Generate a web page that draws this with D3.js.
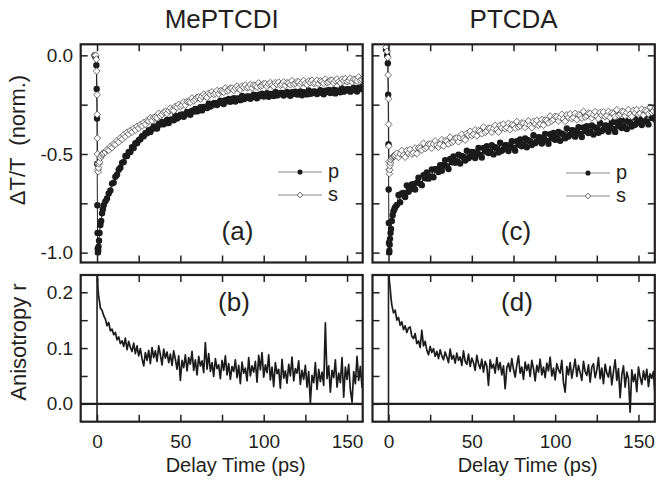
<!DOCTYPE html>
<html>
<head>
<meta charset="utf-8">
<script src="https://cdnjs.cloudflare.com/ajax/libs/d3/7.8.5/d3.min.js"></script>
<style>
  body { margin: 0; background: #fff; }
  text { font-family: "Liberation Sans", Arial, sans-serif; fill: #231f20; }
</style>
</head>
<body>
<div id="chart"></div>
<script>
// ---- data ----

// delay times (ps) for the transmission traces
var delayTop = [-1.5, -0.8, -0.4, -0.2, 0, 0.1, 0.2, 0.3, 0.4, 0.5, 0.7, 0.9, 1.2, 1.5, 2, 2.5, 3, 3.5, 4,
  5, 6, 7, 8, 9, 10, 11, 12, 13, 14, 15, 16, 17, 18, 19, 20, 21, 22, 23, 24, 25, 26, 27, 28, 29, 30,
  31, 32, 33, 34, 35, 36, 37, 38, 39, 40, 41, 42, 43, 44, 45, 46, 47, 48, 49, 50,
  51, 52, 53, 54, 55, 56, 57, 58, 59, 60, 61, 62, 63, 64, 65, 66, 67, 68, 69, 70,
  71, 72, 73, 74, 75, 76, 77, 78, 79, 80, 81, 82, 83, 84, 85, 86, 87, 88, 89, 90,
  91, 92, 93, 94, 95, 96, 97, 98, 99, 100, 101, 102, 103, 104, 105, 106, 107, 108, 109, 110,
  111, 112, 113, 114, 115, 116, 117, 118, 119, 120, 121, 122, 123, 124, 125, 126, 127, 128, 129, 130,
  131, 132, 133, 134, 135, 136, 137, 138, 139, 140, 141, 142, 143, 144, 145, 146, 147, 148, 149, 150,
  151, 152, 153, 154, 155, 156, 157, 158, 159, 160];

// (a) MePTCDI, p and s polarisation
var pMePTCDI = [0.0, -0.01, -0.05, -0.17, -0.32, -0.55, -0.76, -0.9, -0.98, -1.0, -0.99, -0.97, -0.94, -0.9, -0.86, -0.84, -0.8, -0.78, -0.76,
  -0.74, -0.725, -0.70, -0.685, -0.65, -0.645, -0.615, -0.605, -0.58, -0.57, -0.545, -0.54, -0.51, -0.51, -0.49, -0.49, -0.465, -0.47, -0.445, -0.445, -0.43, -0.425, -0.41, -0.41, -0.395, -0.395,
  -0.380, -0.388, -0.373, -0.360, -0.369, -0.371, -0.348, -0.351, -0.338, -0.349,
  -0.343, -0.328, -0.343, -0.326, -0.325, -0.329, -0.306, -0.320, -0.313, -0.302,
  -0.300, -0.311, -0.298, -0.287, -0.297, -0.301, -0.280, -0.285, -0.272, -0.284,
  -0.278, -0.263, -0.279, -0.262, -0.262, -0.267, -0.245, -0.259, -0.253, -0.242,
  -0.241, -0.252, -0.240, -0.230, -0.242, -0.247, -0.227, -0.233, -0.221, -0.235,
  -0.230, -0.217, -0.234, -0.219, -0.220, -0.227, -0.206, -0.222, -0.217, -0.208,
  -0.208, -0.220, -0.209, -0.200, -0.213, -0.218, -0.199, -0.206, -0.195, -0.209,
  -0.205, -0.192, -0.210, -0.196, -0.198, -0.206, -0.186, -0.203, -0.199, -0.191,
  -0.191, -0.204, -0.193, -0.185, -0.199, -0.205, -0.187, -0.195, -0.184, -0.199,
  -0.196, -0.183, -0.202, -0.187, -0.190, -0.198, -0.178, -0.195, -0.192, -0.183,
  -0.184, -0.196, -0.186, -0.177, -0.191, -0.197, -0.179, -0.186, -0.176, -0.191,
  -0.187, -0.174, -0.193, -0.178, -0.180, -0.187, -0.168, -0.184, -0.180, -0.172,
  -0.172, -0.184, -0.173, -0.164, -0.177, -0.183, -0.164, -0.171, -0.160, -0.173];

var sMePTCDI = [0.0, 0.0, -0.02, -0.08, -0.2, -0.3, -0.42, -0.5, -0.55, -0.58, -0.59, -0.57, -0.55, -0.54, -0.52, -0.51, -0.5, -0.5, -0.495,
  -0.49, -0.478, -0.481, -0.462, -0.468, -0.449, -0.452, -0.433, -0.44, -0.418, -0.425, -0.403, -0.412, -0.39, -0.399, -0.381, -0.389, -0.37, -0.378, -0.36, -0.369, -0.351, -0.358, -0.34, -0.35, -0.332,
  -0.333, -0.317, -0.332, -0.314, -0.313, -0.317, -0.294, -0.307, -0.300, -0.288,
  -0.285, -0.294, -0.280, -0.268, -0.278, -0.281, -0.259, -0.263, -0.249, -0.260,
  -0.253, -0.237, -0.253, -0.235, -0.235, -0.239, -0.217, -0.231, -0.224, -0.213,
  -0.211, -0.221, -0.208, -0.197, -0.208, -0.213, -0.192, -0.198, -0.185, -0.198,
  -0.193, -0.179, -0.196, -0.180, -0.181, -0.187, -0.166, -0.181, -0.176, -0.166,
  -0.166, -0.177, -0.166, -0.156, -0.169, -0.174, -0.155, -0.162, -0.151, -0.165,
  -0.161, -0.148, -0.166, -0.151, -0.153, -0.160, -0.140, -0.156, -0.152, -0.144,
  -0.144, -0.157, -0.146, -0.138, -0.151, -0.158, -0.139, -0.147, -0.136, -0.151,
  -0.147, -0.135, -0.153, -0.139, -0.141, -0.149, -0.129, -0.146, -0.142, -0.134,
  -0.135, -0.147, -0.137, -0.128, -0.142, -0.149, -0.130, -0.138, -0.127, -0.142,
  -0.139, -0.126, -0.145, -0.130, -0.133, -0.141, -0.121, -0.138, -0.134, -0.126,
  -0.126, -0.139, -0.128, -0.120, -0.133, -0.140, -0.121, -0.129, -0.118, -0.133,
  -0.129, -0.117, -0.135, -0.121, -0.123, -0.130, -0.110, -0.127, -0.123, -0.114];

// (c) PTCDA, p and s polarisation
var pPTCDA = [0.03, 0.0, -0.04, -0.2, -0.45, -0.68, -0.85, -0.95, -1.0, -0.99, -0.96, -0.93, -0.9, -0.88, -0.84, -0.81, -0.79, -0.78, -0.77,
  -0.758, -0.708, -0.745, -0.700, -0.697, -0.718, -0.660, -0.692, -0.680, -0.655,
  -0.653, -0.680, -0.645, -0.620, -0.650, -0.658, -0.607, -0.623, -0.593, -0.625,
  -0.615, -0.578, -0.618, -0.577, -0.577, -0.591,
  -0.557, -0.585, -0.556, -0.531, -0.562, -0.576, -0.525, -0.542, -0.513, -0.545,
  -0.536, -0.503, -0.548, -0.510, -0.515, -0.533, -0.483, -0.522, -0.513, -0.490,
  -0.491, -0.520, -0.493, -0.470, -0.503, -0.518, -0.470, -0.488, -0.461, -0.495,
  -0.487, -0.456, -0.502, -0.466, -0.472, -0.492, -0.443, -0.484, -0.476, -0.455,
  -0.456, -0.485, -0.458, -0.435, -0.468, -0.483, -0.435, -0.453, -0.426, -0.461,
  -0.452, -0.421, -0.466, -0.430, -0.435, -0.455, -0.405, -0.445, -0.437, -0.415,
  -0.416, -0.447, -0.420, -0.398, -0.432, -0.448, -0.400, -0.420, -0.393, -0.428,
  -0.419, -0.388, -0.433, -0.396, -0.401, -0.420, -0.370, -0.411, -0.402, -0.380,
  -0.381, -0.412, -0.385, -0.364, -0.397, -0.414, -0.366, -0.385, -0.359, -0.394,
  -0.386, -0.355, -0.401, -0.365, -0.372, -0.392, -0.343, -0.384, -0.376, -0.355,
  -0.356, -0.387, -0.360, -0.338, -0.372, -0.388, -0.340, -0.360, -0.333, -0.368,
  -0.359, -0.328, -0.373, -0.337, -0.342, -0.361, -0.312, -0.352, -0.343, -0.322,
  -0.323, -0.353, -0.325, -0.303, -0.335, -0.350, -0.301, -0.318, -0.290, -0.325];

var sPTCDA = [0.04, 0.02, -0.01, -0.1, -0.22, -0.35, -0.46, -0.54, -0.58, -0.6, -0.58, -0.56, -0.545, -0.53, -0.52, -0.515, -0.51, -0.51, -0.505,
  -0.497, -0.517, -0.499, -0.483, -0.506, -0.516, -0.483, -0.496, -0.477, -0.500,
  -0.494, -0.470, -0.498, -0.469, -0.470, -0.480, -0.446, -0.472, -0.465, -0.450,
  -0.450, -0.470, -0.450, -0.434, -0.455, -0.465,
  -0.450, -0.428, -0.459, -0.433, -0.436, -0.449, -0.415, -0.441, -0.435, -0.420,
  -0.419, -0.438, -0.417, -0.400, -0.421, -0.429, -0.395, -0.405, -0.385, -0.407,
  -0.400, -0.378, -0.408, -0.382, -0.385, -0.397, -0.364, -0.390, -0.383, -0.369,
  -0.369, -0.389, -0.371, -0.355, -0.377, -0.388, -0.355, -0.368, -0.349, -0.372,
  -0.366, -0.345, -0.376, -0.351, -0.355, -0.369, -0.336, -0.363, -0.357, -0.343,
  -0.344, -0.365, -0.347, -0.333, -0.356, -0.367, -0.335, -0.348, -0.330, -0.355,
  -0.347, -0.325, -0.354, -0.328, -0.330, -0.342, -0.308, -0.333, -0.325, -0.310,
  -0.311, -0.332, -0.314, -0.299, -0.322, -0.334, -0.302, -0.315, -0.297, -0.321,
  -0.315, -0.294, -0.326, -0.301, -0.305, -0.318, -0.285, -0.313, -0.307, -0.293,
  -0.295, -0.317, -0.300, -0.286, -0.309, -0.321, -0.290, -0.304, -0.287, -0.311,
  -0.306, -0.285, -0.316, -0.292, -0.296, -0.309, -0.276, -0.304, -0.298, -0.284,
  -0.286, -0.307, -0.290, -0.275, -0.299, -0.310, -0.279, -0.292, -0.275, -0.300,
  -0.294, -0.273, -0.304, -0.279, -0.283, -0.296, -0.263, -0.289, -0.282, -0.267];

// delay times (ps) for the anisotropy traces
var delayAniso = [0.3, 0.6, 1, 1.5, 2,
  3, 4, 5, 6, 7, 8, 9, 10, 11, 12, 13, 14, 15, 16, 17, 18, 19, 20, 21, 22, 23, 24, 25, 26, 27, 28, 29, 30,
  31, 32, 33, 34, 35, 36, 37, 38, 39, 40, 41, 42, 43, 44, 45, 46, 47, 48, 49, 50, 51, 52, 53, 54, 55, 56,
  57, 58, 59, 60, 61, 62, 63, 64, 65, 66, 67, 68, 69, 70, 71, 72, 73, 74, 75, 76, 77, 78, 79, 80, 81, 82,
  83, 84, 85, 86, 87, 88, 89, 90, 91, 92, 93, 94, 95, 96, 97, 98, 99, 100, 101, 102, 103, 104, 105, 106,
  107, 108, 109, 110, 111, 112, 113, 114, 115, 116, 117, 118, 119, 120, 121, 122, 123, 124, 125, 126, 127,
  128, 129, 130, 131, 132, 133, 134, 135, 136, 137, 138, 139, 140, 141, 142, 143, 144, 145, 146, 147, 148,
  149, 150, 151, 152, 153, 154, 155, 156, 157, 158, 159, 160];

// (b) MePTCDI anisotropy
var rMePTCDI = [0.226, 0.205, 0.192, 0.183, 0.172,
  0.168, 0.158, 0.152, 0.140, 0.146, 0.131, 0.134, 0.124, 0.128, 0.115,
  0.120, 0.108, 0.113, 0.103, 0.118, 0.097, 0.112, 0.101, 0.094, 0.109,
  0.090, 0.104, 0.086, 0.099, 0.081, 0.068, 0.092, 0.078, 0.096, 0.072,
  0.101, 0.083, 0.095, 0.076, 0.104, 0.088, 0.070, 0.098, 0.082, 0.093,
  0.074, 0.089, 0.069, 0.095, 0.080, 0.062, 0.086, 0.042, 0.078, 0.065,
  0.088, 0.059, 0.083, 0.071, 0.094, 0.060, 0.079, 0.052, 0.085, 0.068,
  0.077, 0.056, 0.110, 0.062, 0.090, 0.058, 0.074, 0.049, 0.081, 0.063,
  0.070, 0.045, 0.078, 0.060, 0.086, 0.052, 0.072, 0.044, 0.067, 0.058,
  0.079, 0.047, 0.069, 0.036, 0.075, 0.055, 0.064, 0.041, 0.083, 0.050,
  0.068, 0.057, 0.076, 0.039, 0.087, 0.061, 0.092, 0.048, 0.070, 0.056,
  0.088, 0.043, 0.066, 0.031, 0.074, 0.054, 0.062, 0.028, 0.080, 0.046,
  0.059, 0.037, 0.071, 0.050, 0.084, 0.041, 0.063, 0.055, 0.077, 0.035,
  0.060, 0.044, 0.069, 0.030, 0.058, 0.002, 0.051, 0.038, 0.074, 0.026,
  0.062, 0.040, 0.057, 0.033, 0.145, 0.045, 0.068, 0.021, 0.060, 0.047,
  0.079, 0.030, 0.055, 0.038, 0.083, 0.012, 0.066, 0.044, 0.071, 0.025,
  0.003, 0.058, 0.036, 0.085, 0.042, 0.067, 0.030, 0.062];

// (d) PTCDA anisotropy
var rPTCDA = [0.230, 0.218, 0.207, 0.190, 0.177,
  0.163, 0.168, 0.150, 0.155, 0.141, 0.147, 0.133, 0.140, 0.128, 0.136,
  0.138, 0.121, 0.117, 0.126, 0.108, 0.113, 0.101, 0.132, 0.104, 0.112,
  0.096, 0.088, 0.103, 0.092, 0.099, 0.085, 0.094, 0.081, 0.097, 0.086,
  0.079, 0.093, 0.084, 0.074, 0.098, 0.080, 0.087, 0.073, 0.091, 0.078,
  0.084, 0.069, 0.095, 0.076, 0.071, 0.089, 0.067, 0.082, 0.074, 0.060,
  0.087, 0.072, 0.063, 0.080, 0.057, 0.076, 0.068, 0.033, 0.079, 0.064,
  0.071, 0.055, 0.083, 0.061, 0.074, 0.052, 0.068, 0.027, 0.065, 0.073,
  0.058, 0.081, 0.062, 0.048, 0.070, 0.086, 0.055, 0.066, 0.044, 0.075,
  0.060, 0.071, 0.049, 0.078, 0.063, 0.041, 0.069, 0.057, 0.080, 0.052,
  0.066, 0.047, 0.073, 0.059, 0.084, 0.050, 0.064, 0.043, 0.072, 0.061,
  0.055, 0.078, 0.038, 0.021, 0.067, 0.052, 0.074, 0.046, 0.063, 0.080,
  0.049, 0.069, 0.056, 0.042, 0.076, 0.058, 0.051, 0.070, 0.039, 0.066,
  0.072, 0.047, 0.060, 0.083, 0.045, 0.064, 0.036, 0.071, 0.055, 0.048,
  0.067, 0.034, 0.058, 0.079, 0.042, 0.063, 0.011, 0.052, 0.068, 0.030,
  0.057, 0.045, -0.015, 0.061, 0.040, 0.053, 0.022, 0.066, 0.048, 0.035,
  0.059, 0.043, 0.062, 0.031, 0.054, 0.046, 0.058, 0.012];

// ticks and labels
var xTicks = [0, 25, 50, 75, 100, 125, 150];
var xLabels = [0, 50, 100, 150];
var topTicks = [0, -0.25, -0.5, -0.75, -1];
var topLabels = [0, -0.5, -1];
var botTicks = [0, 0.05, 0.1, 0.15, 0.2];
var botLabels = [0, 0.1, 0.2];
var titles = ["MePTCDI", "PTCDA"];
var panelNames = ["(a)", "(b)", "(c)", "(d)"];
var legendNames = ["p", "s"];

var ink = "#231f20";

// ---- svg ----
var svg = d3.select("#chart")
  .append("svg")
  .attr("width", 656)
  .attr("height", 480)
  .style("background", "#fff");

// scales, one per column / row
var xLeft = d3.scaleLinear().domain([-9.8, 159.4]).range([80.7, 362.7]);
var xRight = d3.scaleLinear().domain([-9.6, 159.8]).range([372.5, 654.8]);
var yTop = d3.scaleLinear().domain([-1.05, 0.056]).range([262.5, 44.3]);
var yBot = d3.scaleLinear().domain([-0.032, 0.231]).range([421.7, 275]);

var fmt1 = function(d) { return d.toFixed(1); };

// draws ticks on all four sides, inward
function drawAxes(g, x, y, yTicks, yLabels, showY, showX) {
  var x0 = x.range()[0], x1 = x.range()[1];
  var yb = y.range()[0], yt = y.range()[1];

  var bottom = d3.axisBottom(x).tickValues(xTicks).tickSizeInner(-7).tickSizeOuter(0).tickPadding(13)
    .tickFormat(function(d) { return (showX && xLabels.indexOf(d) >= 0) ? d : ""; });
  var top = d3.axisTop(x).tickValues(xTicks).tickSizeInner(-7).tickSizeOuter(0).tickFormat("");
  var left = d3.axisLeft(y).tickValues(yTicks).tickSizeInner(-7).tickSizeOuter(0).tickPadding(7.5)
    .tickFormat(function(d) { return (showY && yLabels.indexOf(d) >= 0) ? fmt1(d) : ""; });
  var right = d3.axisRight(y).tickValues(yTicks).tickSizeInner(-7).tickSizeOuter(0).tickFormat("");

  g.append("g").attr("transform", `translate(0, ${yb})`).call(bottom);
  g.append("g").attr("transform", `translate(0, ${yt})`).call(top);
  g.append("g").attr("transform", `translate(${x0}, 0)`).call(left);
  g.append("g").attr("transform", `translate(${x1}, 0)`).call(right);

  g.selectAll(".domain").remove();
  g.selectAll(".tick line").attr("stroke", ink).attr("stroke-width", 1.5);
  g.selectAll(".tick text").style("font-size", "19px");
}

function frame(g, x, y) {
  g.append("rect")
    .attr("x", x.range()[0])
    .attr("y", y.range()[1])
    .attr("width", x.range()[1] - x.range()[0])
    .attr("height", y.range()[0] - y.range()[1])
    .attr("fill", "none")
    .attr("stroke", ink)
    .attr("stroke-width", 2.2);
}

function clip(id, x, y) {
  svg.append("clipPath").attr("id", id)
    .append("rect")
    .attr("x", x.range()[0])
    .attr("y", y.range()[1])
    .attr("width", x.range()[1] - x.range()[0])
    .attr("height", y.range()[0] - y.range()[1]);
}

function diamond(cx, cy, r) {
  return `M${cx},${cy - r}L${cx + r},${cy}L${cx},${cy + r}L${cx - r},${cy}Z`;
}

// transmission panel (a) / (c)
function topPanel(x, pVals, sVals, showY, name, id, lx, ly, legX, legY) {
  var g = svg.append("g");
  clip(id, x, yTop);
  var plot = g.append("g").attr("clip-path", `url(#${id})`);

  var line = d3.line()
    .x(function(d, i) { return x(delayTop[i]); })
    .y(function(d) { return yTop(d); });

  plot.append("path").datum(pVals)
    .attr("d", line).attr("fill", "none").attr("stroke", ink).attr("stroke-width", 1);
  plot.selectAll(".pdot").data(pVals).enter()
    .append("circle")
    .attr("cx", function(d, i) { return x(delayTop[i]); })
    .attr("cy", function(d) { return yTop(d); })
    .attr("r", 3.2)
    .attr("fill", "#1b1b1b");

  plot.append("path").datum(sVals)
    .attr("d", line).attr("fill", "none").attr("stroke", ink).attr("stroke-width", 0.8);
  plot.selectAll(".sdot").data(sVals).enter()
    .append("path")
    .attr("d", function(d, i) { return diamond(x(delayTop[i]), yTop(d), 3.4); })
    .attr("fill", "#fff")
    .attr("stroke", "#333")
    .attr("stroke-width", 0.7);

  drawAxes(g, x, yTop, topTicks, topLabels, showY, false);

  // legend
  legendNames.forEach(function(n, i) {
    var yy = legY + i * 23;
    g.append("line").attr("x1", legX).attr("x2", legX + 19).attr("y1", yy).attr("y2", yy)
      .attr("stroke", "#8a8a8a").attr("stroke-width", 1);
    g.append("line").attr("x1", legX + 25).attr("x2", legX + 44).attr("y1", yy).attr("y2", yy)
      .attr("stroke", "#8a8a8a").attr("stroke-width", 1);
    if (i == 0) {
      g.append("circle").attr("cx", legX + 22).attr("cy", yy).attr("r", 2.6).attr("fill", "#1b1b1b");
    } else {
      g.append("path").attr("d", diamond(legX + 22, yy, 2.8))
        .attr("fill", "#fff").attr("stroke", "#333").attr("stroke-width", 0.8);
    }
    g.append("text").attr("x", legX + 50).attr("y", yy + 5.5)
      .style("font-size", "20px").text(n);
  });

  g.append("text")
    .attr("x", lx).attr("y", ly)
    .attr("text-anchor", "middle")
    .style("font-size", "26px")
    .text(name);

  frame(g, x, yTop);
}

// anisotropy panel (b) / (d)
function botPanel(x, rVals, showY, name, id, lx, ly) {
  var g = svg.append("g");
  clip(id, x, yBot);
  var plot = g.append("g").attr("clip-path", `url(#${id})`);

  // zero line and time zero
  plot.append("line")
    .attr("x1", x.range()[0]).attr("x2", x.range()[1])
    .attr("y1", yBot(0)).attr("y2", yBot(0))
    .attr("stroke", ink).attr("stroke-width", 2.2);
  plot.append("line")
    .attr("x1", x(0)).attr("x2", x(0))
    .attr("y1", yBot.range()[0]).attr("y2", yBot.range()[1])
    .attr("stroke", ink).attr("stroke-width", 1.6);

  var line = d3.line()
    .x(function(d, i) { return x(delayAniso[i]); })
    .y(function(d) { return yBot(d); });

  plot.append("path").datum(rVals)
    .attr("d", line)
    .attr("fill", "none")
    .attr("stroke", "#1b1b1b")
    .attr("stroke-width", 1.7)
    .attr("stroke-linejoin", "round");

  drawAxes(g, x, yBot, botTicks, botLabels, showY, true);

  g.append("text")
    .attr("x", lx).attr("y", ly)
    .attr("text-anchor", "middle")
    .style("font-size", "26px")
    .text(name);

  frame(g, x, yBot);

  g.append("text")
    .attr("x", (x.range()[0] + x.range()[1]) / 2 + 14)
    .attr("y", 471.5)
    .attr("text-anchor", "middle")
    .style("font-size", "20px")
    .text("Delay Time (ps)");
}

topPanel(xLeft, pMePTCDI, sMePTCDI, true, panelNames[0], "clipA", 237.5, 240, 278, 172);
botPanel(xLeft, rMePTCDI, true, panelNames[1], "clipB", 234, 311);
topPanel(xRight, pPTCDA, sPTCDA, false, panelNames[2], "clipC", 516, 240, 566, 173);
botPanel(xRight, rPTCDA, false, panelNames[3], "clipD", 517, 311);

// column titles
svg.selectAll(".title")
  .data(titles)
  .enter()
  .append("text")
  .attr("x", function(d, i) { var x = i == 0 ? xLeft : xRight; return (x.range()[0] + x.range()[1]) / 2; })
  .attr("y", 27.5)
  .attr("text-anchor", "middle")
  .style("font-size", "26px")
  .text(function(d) { return d; });

// y axis titles
svg.append("text")
  .attr("transform", "translate(25, 140) rotate(-90)")
  .attr("text-anchor", "middle")
  .style("font-size", "22px")
  .style("white-space", "pre")
  .text("\u0394T/T  (norm.)");

svg.append("text")
  .attr("transform", "translate(26, 342) rotate(-90)")
  .attr("text-anchor", "middle")
  .style("font-size", "22px")
  .text("Anisotropy r");
</script>
</body>
</html>
